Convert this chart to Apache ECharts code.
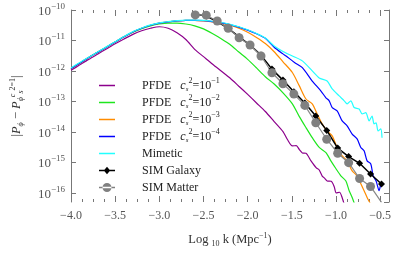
<!DOCTYPE html>
<html><head><meta charset="utf-8">
<script src="https://cdn.jsdelivr.net/npm/echarts@6/dist/echarts.min.js"></script>
<style>html,body{margin:0;padding:0;background:#fff}#c{width:415px;height:260px}</style>
</head><body><div id="c"></div>
<script>
// x: log10 k (Mpc^-1); y: log10 |P_phi - P_phi(cs^2=1)|
const legendNames = ['PFDE1', 'PFDE2', 'PFDE3', 'PFDE4', 'Mimetic', 'SIM Galaxy', 'SIM Matter'];
const legendExponents = ['1', '2', '3', '4'];

const pfde1LogK = [-4.0,-3.9,-3.8,-3.7,-3.6,-3.5,-3.4,-3.3,-3.2,-3.1,-3.0,-2.9,-2.8,-2.7,-2.6,-2.5,-2.4,-2.3,-2.2,-2.1,-2.0,-1.9,-1.8,-1.7,-1.6,-1.55,-1.494,-1.45,-1.415,-1.381,-1.34,-1.283,-1.223,-1.19,-1.156,-1.133,-1.10,-1.054,-1.02,-0.998,-0.96,-0.93,-0.90];
const pfde1LogP = [-11.98,-11.80,-11.62,-11.45,-11.28,-11.11,-10.95,-10.80,-10.68,-10.60,-10.55,-10.60,-10.75,-10.97,-11.29,-11.53,-11.77,-12.00,-12.23,-12.50,-12.77,-13.05,-13.33,-13.66,-13.99,-14.25,-14.46,-14.45,-14.58,-14.69,-14.70,-14.95,-15.18,-15.25,-15.45,-15.51,-15.61,-15.62,-15.80,-16.00,-15.98,-16.16,-16.45];

const pfde2LogK = [-4.0,-3.9,-3.8,-3.7,-3.6,-3.5,-3.4,-3.3,-3.2,-3.1,-3.0,-2.9,-2.8,-2.7,-2.6,-2.5,-2.4,-2.3,-2.2,-2.1,-2.0,-1.9,-1.8,-1.7,-1.6,-1.494,-1.415,-1.34,-1.269,-1.19,-1.114,-1.058,-1.0,-0.945,-0.888,-0.851,-0.817,-0.78];
const pfde2LogP = [-11.92,-11.74,-11.56,-11.39,-11.22,-11.05,-10.88,-10.73,-10.61,-10.52,-10.46,-10.43,-10.43,-10.46,-10.52,-10.62,-10.77,-10.94,-11.13,-11.38,-11.62,-11.90,-12.19,-12.43,-12.72,-13.08,-13.50,-13.86,-14.19,-14.51,-14.68,-14.95,-15.21,-15.44,-15.61,-15.93,-16.15,-16.45];

const pfde3LogK = [-4.0,-3.9,-3.8,-3.7,-3.6,-3.5,-3.4,-3.3,-3.2,-3.1,-3.0,-2.9,-2.8,-2.7,-2.6,-2.5,-2.4,-2.3,-2.2,-2.1,-2.0,-1.9,-1.8,-1.7,-1.6,-1.494,-1.415,-1.34,-1.269,-1.213,-1.156,-1.10,-1.043,-0.987,-0.930,-0.874,-0.817,-0.761,-0.719,-0.682,-0.648,-0.606,-0.58];
const pfde3LogP = [-11.92,-11.74,-11.56,-11.39,-11.22,-11.05,-10.88,-10.72,-10.60,-10.50,-10.43,-10.39,-10.36,-10.34,-10.34,-10.36,-10.39,-10.44,-10.50,-10.60,-10.73,-10.90,-11.10,-11.37,-11.70,-12.05,-12.49,-12.92,-13.08,-13.41,-13.74,-13.97,-14.13,-14.51,-14.79,-14.95,-15.28,-15.44,-15.70,-15.93,-16.15,-16.39,-16.55];

const pfde4LogK = [-4.0,-3.9,-3.8,-3.7,-3.6,-3.5,-3.4,-3.3,-3.2,-3.1,-3.0,-2.9,-2.8,-2.7,-2.6,-2.5,-2.4,-2.3,-2.2,-2.1,-2.0,-1.9,-1.8,-1.7,-1.6,-1.565,-1.47,-1.381,-1.269,-1.17,-1.114,-1.077,-1.043,-0.987,-0.930,-0.874,-0.817,-0.761,-0.719,-0.682,-0.648,-0.606,-0.580,-0.546,-0.512,-0.493];
const pfde4LogP = [-11.92,-11.74,-11.56,-11.39,-11.22,-11.05,-10.88,-10.72,-10.60,-10.50,-10.43,-10.39,-10.36,-10.34,-10.34,-10.35,-10.38,-10.42,-10.48,-10.56,-10.66,-10.78,-10.93,-11.22,-11.44,-11.51,-11.72,-11.89,-12.33,-12.66,-12.88,-12.98,-13.20,-13.31,-13.64,-13.80,-14.07,-14.23,-14.51,-14.62,-14.95,-15.05,-15.44,-15.61,-15.93,-15.70];

const mimeticLogK = [-4.0,-3.9,-3.8,-3.7,-3.6,-3.5,-3.4,-3.3,-3.2,-3.1,-3.0,-2.9,-2.8,-2.7,-2.6,-2.5,-2.4,-2.3,-2.2,-2.1,-2.0,-1.9,-1.8,-1.7,-1.6,-1.494,-1.381,-1.269,-1.19,-1.10,-1.043,-0.964,-0.907,-0.874,-0.832,-0.795,-0.738,-0.704,-0.663,-0.625,-0.592,-0.569,-0.546,-0.524,-0.493,-0.479];
const mimeticLogP = [-11.90,-11.72,-11.55,-11.38,-11.21,-11.04,-10.87,-10.71,-10.59,-10.49,-10.42,-10.38,-10.35,-10.33,-10.33,-10.34,-10.37,-10.41,-10.47,-10.55,-10.65,-10.77,-10.92,-11.18,-11.36,-11.51,-11.67,-12.00,-12.23,-12.33,-12.59,-12.82,-12.98,-13.08,-12.98,-13.20,-13.25,-13.41,-13.37,-13.64,-13.48,-13.74,-13.70,-13.97,-13.90,-14.19];

const simLogK = [-2.593,-2.469,-2.345,-2.221,-2.097,-1.973,-1.849,-1.725,-1.601,-1.477,-1.353,-1.229,-1.105,-0.981,-0.857,-0.733,-0.609,-0.485];
const simGalaxyLogP = [-10.14,-10.20,-10.38,-10.60,-10.88,-11.15,-11.48,-11.94,-12.30,-12.68,-13.05,-13.48,-13.95,-14.53,-14.81,-15.03,-15.38,-15.71];
const simMatterLogP = [-10.16,-10.17,-10.36,-10.60,-10.91,-11.15,-11.51,-12.06,-12.42,-12.76,-13.13,-13.70,-14.24,-14.70,-15.01,-15.53,-15.79,-16.31];

const FONT = 'Liberation Serif';
const pairs = (xs, ys) => xs.map((x, i) => [x, ys[i]]);

const chart = echarts.init(document.getElementById('c'), null, {renderer: 'canvas'});

function curve(name, xs, ys, color, width) {
  return {
    name: name, type: 'line', data: pairs(xs, ys), symbol: 'none', smooth: 0.25,
    lineStyle: {color: color, width: width}, itemStyle: {color: color},
    xAxisIndex: 0, yAxisIndex: 0, clip: true, silent: true
  };
}

const ICON_LINE = 'path://M0,4.2L16,4.2L16,5.8L0,5.8Z M0,0L0.01,0L0.01,0.01Z M0,10L0.01,10L0.01,9.99Z';
const ICON_DIAMOND = 'path://M0,4.3L16,4.3L16,5.7L0,5.7Z M8,1.2L11.2,5L8,8.8L4.8,5Z M0,0L0.01,0L0.01,0.01Z M0,10L0.01,10L0.01,9.99Z';
const ICON_CIRCLE = 'path://M0,4.3L16,4.3L16,5.7L0,5.7Z M3.5,5A4.5,4.5 0 1 0 12.5,5A4.5,4.5 0 1 0 3.5,5Z M0,0L0.01,0L0.01,0.01Z M0,10L0.01,10L0.01,9.99Z';

const LH = 17;
const legendRich = {
  t: {fontFamily: FONT, fontSize: 12, color: '#222', lineHeight: LH, verticalAlign: 'middle'},
  sp: {fontFamily: FONT, fontSize: 12, width: 9, lineHeight: LH},
  i: {fontFamily: FONT, fontSize: 12, fontStyle: 'italic', color: '#222', lineHeight: LH, verticalAlign: 'middle'},
  sub: {fontFamily: FONT, fontSize: 7, fontStyle: 'italic', color: '#222', lineHeight: LH, verticalAlign: 'bottom', padding: [0, 0, 1, 0]},
  sup: {fontFamily: FONT, fontSize: 8, color: '#222', lineHeight: LH, verticalAlign: 'top'}
};

const axisLabelRich = {
  b: {fontFamily: FONT, fontSize: 13, color: '#555', lineHeight: 16, verticalAlign: 'bottom'},
  e: {fontFamily: FONT, fontSize: 9, color: '#555', lineHeight: 16, verticalAlign: 'top'}
};

const nameRich = {
  t: {fontFamily: FONT, fontSize: 12.5, color: '#333', lineHeight: 16, verticalAlign: 'middle'},
  it: {fontFamily: FONT, fontSize: 12.5, fontStyle: 'italic', color: '#333', lineHeight: 16, verticalAlign: 'middle'},
  sub: {fontFamily: FONT, fontSize: 8, fontStyle: 'italic', color: '#333', lineHeight: 16, verticalAlign: 'bottom'},
  sup: {fontFamily: FONT, fontSize: 8, fontStyle: 'italic', color: '#333', lineHeight: 16, verticalAlign: 'top'},
  supn: {fontFamily: FONT, fontSize: 8, color: '#333', lineHeight: 16, verticalAlign: 'top'},
  xsub: {fontFamily: FONT, fontSize: 8, color: '#333', lineHeight: 16, verticalAlign: 'bottom'}
};

const legendIcons = [ICON_LINE, ICON_LINE, ICON_LINE, ICON_LINE, ICON_LINE, ICON_DIAMOND, ICON_CIRCLE];

const option = {
  animation: false,
  backgroundColor: '#fff',
  grid: {left: 71, right: 26, top: 10, bottom: 58, containLabel: false, outerBoundsMode: 'none'},
  legend: {
    orient: 'vertical', left: 94, top: 72, itemWidth: 16, itemHeight: 10, itemGap: 0,
    data: legendNames.map((n, i) => ({name: n, icon: legendIcons[i]})),
    selectedMode: false,
    formatter: function (n) {
      const idx = legendNames.indexOf(n);
      if (idx < 4) return '{t|PFDE}{sp| }{i|c}{sub|s}{sup|2}{t|=10}{sup|−' + legendExponents[idx] + '}';
      return '{t|' + n + '}';
    },
    textStyle: {fontFamily: FONT, fontSize: 12, color: '#222', lineHeight: LH, height: LH, padding: [0, 0, 0, 22], rich: legendRich}
  },
  xAxis: [{
    type: 'value', min: -4, max: -0.4, interval: 0.5, position: 'bottom',
    axisLine: {show: false},
    axisTick: {show: true, inside: true, length: 6, lineStyle: {color: '#777'}},
    minorTick: {show: true, splitNumber: 4, length: 3, lineStyle: {color: '#777'}},
    splitLine: {show: false}, minorSplitLine: {show: false},
    axisLabel: {
      margin: 8, fontFamily: FONT, fontSize: 12, color: '#555',
      showMaxLabel: false,
      formatter: function (v) {
        if (Math.abs(v * 2 - Math.round(v * 2)) > 1e-6) return '';
        return v.toFixed(1).replace('-', '−');
      }
    },
    name: '{t|Log }{xsub|10}{t| k (Mpc}{supn|−1}{t|)}',
    nameLocation: 'middle', nameGap: 30,
    nameTextStyle: {rich: nameRich}
  }, {
    type: 'value', min: -4, max: -0.4, interval: 0.5, position: 'top',
    axisLine: {show: false},
    axisTick: {show: true, inside: true, length: 6, lineStyle: {color: '#777'}},
    minorTick: {show: true, splitNumber: 4, length: 3, lineStyle: {color: '#777'}},
    splitLine: {show: false}, axisLabel: {show: false}
  }],
  yAxis: [{
    type: 'value', min: -16.3, max: -10, position: 'left',
    axisLine: {show: true, onZero: false, lineStyle: {color: '#777', width: 1}},
    axisTick: {show: true, inside: true, length: 5, lineStyle: {color: '#777'}},
    splitLine: {show: false},
    axisLabel: {
      margin: 6, showMinLabel: false,
      formatter: function (v) {
        if (Math.abs(v - Math.round(v)) > 1e-6) return '';
        return '{b|10}{e|−' + Math.abs(Math.round(v)) + '}';
      },
      rich: axisLabelRich
    },
    name: '{t||}{it|P}{sub|ϕ}{t| − }{it|P}{sub|ϕ}{sup|c}{sub|s}{supn|2}{supn|=1}{t||}',
    nameLocation: 'middle', nameGap: 46, nameRotate: 90,
    nameTextStyle: {rich: nameRich, padding: [0, 0, 0, 0]}
  }, {
    type: 'value', min: -16.3, max: -10, position: 'right',
    axisLine: {show: true, onZero: false, lineStyle: {color: '#777', width: 1}},
    axisTick: {show: true, inside: true, length: 5, lineStyle: {color: '#777'}},
    splitLine: {show: false}, axisLabel: {show: false}
  }],
  series: [
    curve('PFDE1', pfde1LogK, pfde1LogP, '#8c008c', 1.2),
    curve('PFDE2', pfde2LogK, pfde2LogP, '#1ee61e', 1.2),
    curve('PFDE3', pfde3LogK, pfde3LogP, '#ff8c00', 1.2),
    curve('PFDE4', pfde4LogK, pfde4LogP, '#0000ff', 1.2),
    curve('Mimetic', mimeticLogK, mimeticLogP, '#22ffff', 1.2),
    {
      name: 'SIM Galaxy', type: 'line', data: pairs(simLogK, simGalaxyLogP),
      symbol: 'diamond', symbolSize: 7, showSymbol: true,
      lineStyle: {color: '#000', width: 1.5}, itemStyle: {color: '#000'}, silent: true
    },
    {
      name: 'SIM Matter', type: 'line', data: pairs(simLogK, simMatterLogP),
      symbol: 'circle', symbolSize: 9, showSymbol: true,
      lineStyle: {color: '#888', width: 1.2}, itemStyle: {color: '#808080'}, silent: true
    }
  ]
};
chart.setOption(option);
</script>
</body></html>
